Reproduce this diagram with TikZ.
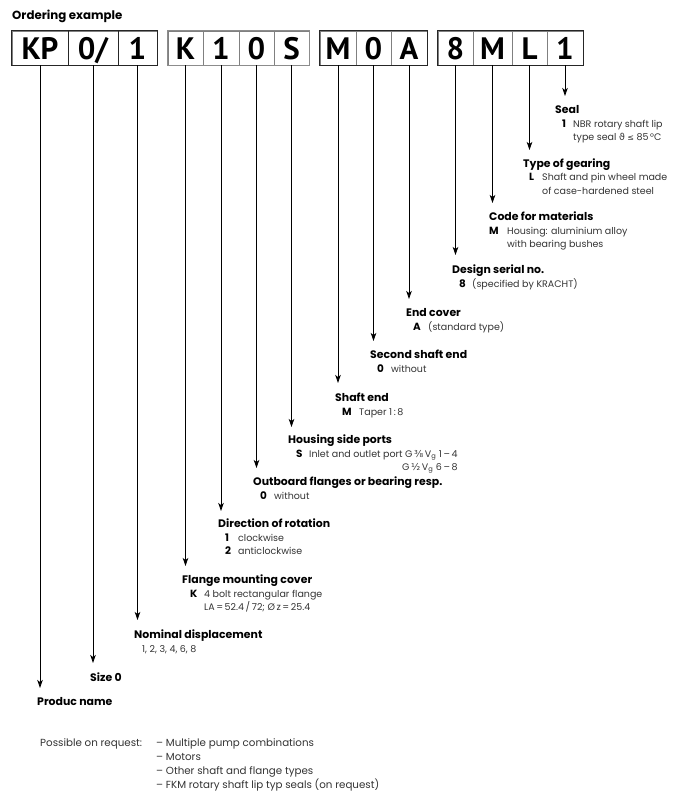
\documentclass[tikz,border=0pt]{standalone}
\usepackage{fontspec}
\setmainfont{Poppins}
\newfontfamily\boxfont{PT Sans}
\newfontfamily\symfont{DejaVu Sans}
\usetikzlibrary{arrows.meta,calc}
\tikzset{
  lbl/.style={anchor=base west, inner sep=0pt, font=\fontsize{10.9}{13}\selectfont\bfseries},
  ttl/.style={anchor=base west, inner sep=0pt, font=\fontsize{11.8}{14}\selectfont\bfseries},
  num/.style={anchor=base west, inner sep=0pt, font=\fontsize{10.4}{12}\selectfont\bfseries},
  dsc/.style={anchor=base west, inner sep=0pt, font=\fontsize{9.5}{12}\selectfont, text=black!80},
  note/.style={anchor=base west, inner sep=0pt, font=\fontsize{10.3}{12}\selectfont, text=black!80},
  cell/.style={draw=black!50, line width=0.8pt, minimum height=34pt, inner sep=0pt,
    text height=22pt, text depth=0pt, font=\boxfont\bfseries\fontsize{31}{31}\selectfont},
  grp/.style={draw=black!85, line width=1.1pt},
  arr/.style={line width=0.9pt, -{Stealth[length=8pt,width=5.5pt,inset=2pt]}}
}
\begin{document}
\begin{tikzpicture}[x=1pt,y=-1pt]
\useasboundingbox (0,0) rectangle (677,806);
\node[ttl] (title) at (12,19) {Ordering example};
% cells
\node[cell, minimum width=56pt] (c1) at (40,48) {KP};
\node[cell, minimum width=50pt] (c2) at (93,48) {0/};
\node[cell, minimum width=39pt] (c3) at (137.5,48) {1};
\node[cell, minimum width=35pt] (c4) at (185.5,48) {K};
\node[cell, minimum width=36pt] (c5) at (221,48) {1};
\node[cell, minimum width=35pt] (c6) at (256.5,48) {0};
\node[cell, minimum width=35pt] (c7) at (291.5,48) {S};
\node[cell, minimum width=36pt] (c8) at (338,48) {M};
\node[cell, minimum width=35pt] (c9) at (373.5,48) {0};
\node[cell, minimum width=36pt] (c10) at (409,48) {A};
\node[cell, minimum width=35pt] (c11) at (455.5,48) {8};
\node[cell, minimum width=39pt] (c12) at (492.5,48) {M};
\node[cell, minimum width=35pt] (c13) at (529.5,48) {L};
\node[cell, minimum width=36pt] (c14) at (565,48) {1};
\draw[grp] (c1.north west) rectangle (c3.south east);
\draw[grp] (c1.north east) -- (c1.south east) (c2.north east) -- (c2.south east);
\draw[draw=black!45, line width=1pt] (c4.north west) rectangle (c7.south east);
\draw[grp] (c8.north west) rectangle (c10.south east);
\draw[grp] (c11.north west) rectangle (c14.south east);
% arrow tips
\coordinate (t14) at (565,96);
\coordinate (t13) at (529,150);
\coordinate (t12) at (493,203);
\coordinate (t11) at (455,255);
\coordinate (t10) at (409,299);
\coordinate (t9) at (373,341);
\coordinate (t8) at (338,383);
\coordinate (t7) at (292,427);
\coordinate (t6) at (257,468);
\coordinate (t5) at (221,511);
\coordinate (t4) at (186,566);
\coordinate (t3) at (137,620);
\coordinate (t2) at (93,663);
\coordinate (t1) at (40,688);
\foreach \i in {1,...,14}{\draw[arr] (c\i.south) -- (c\i.south |- t\i);}
% Seal
\node[lbl] (l14) at (555,113.5) {Seal};
\node[num] at (562,127) {1};
\node[dsc] (d14a) at (573,127) {NBR rotary shaft lip};
\node[dsc] (d14b) at (573,140.5) {type seal {\symfont ϑ} {\symfont\fontsize{8}{10}\selectfont ≤} 85\,°C};
% Type of gearing
\node[lbl] (l13) at (523,167) {Type of gearing};
\node[num] at (529,180.5) {L};
\node[dsc] (d13a) at (542,180.5) {Shaft and pin wheel made};
\node[dsc] (d13b) at (542,194) {of case-hardened steel};
% Code for materials
\node[lbl] (l12) at (489,220) {Code for materials};
\node[num] at (489,234) {M};
\node[dsc] (d12a) at (507,234) {Housing: aluminium alloy};
\node[dsc] (d12b) at (507,247.5) {with bearing bushes};
% Design serial no.
\node[lbl] (l11) at (452,273) {Design serial no.};
\node[num] at (459,287) {8};
\node[dsc] (d11a) at (472,287) {(specified by KRACHT)};
% End cover
\node[lbl] (l10) at (406,316) {End cover};
\node[num] at (413,330) {A};
\node[dsc] (d10a) at (428,330) {(standard type)};
% Second shaft end
\node[lbl] (l9) at (370,358) {Second shaft end};
\node[num] at (377,372) {0};
\node[dsc] (d9a) at (391,372) {without};
% Shaft end
\node[lbl] (l8) at (335,401) {Shaft end};
\node[num] at (342,415) {M};
\node[dsc] (d8a) at (359,415) {Taper 1\,:\,8};
% Housing side ports
\node[lbl] (l7) at (288,443) {Housing side ports};
\node[num] at (296,457) {S};
\node[dsc] (d7a) at (309,457) {Inlet and outlet port G\,{\symfont ⅜}\,V\textsubscript{g} 1\,–\,4};
\node[dsc, anchor=base east] (d7b) at ($(d7a.base east)+(0,13.5)$) {G\,{\symfont ½}\,V\textsubscript{g} 6\,–\,8};
% Outboard
\node[lbl] (l6) at (253,485) {Outboard flanges or bearing resp.};
\node[num] at (260,499) {0};
\node[dsc] (d6a) at (274,499) {without};
% Direction of rotation
\node[lbl] (l5) at (218,527) {Direction of rotation};
\node[num] at (225,541) {1};
\node[dsc] (d5a) at (238,541) {clockwise};
\node[num] at (225,554.5) {2};
\node[dsc] (d5b) at (238,554.5) {anticlockwise};
% Flange mounting cover
\node[lbl] (l4) at (182,583) {Flange mounting cover};
\node[num] at (190,597) {K};
\node[dsc] (d4a) at (204,597) {4 bolt rectangular flange};
\node[dsc] (d4b) at (204,610.5) {LA\,=\,52.4\,/\,72; Ø\,z\,=\,25.4};
% Nominal displacement
\node[lbl] (l3) at (134,638) {Nominal displacement};
\node[dsc] (d3a) at (142,652) {1, 2, 3, 4, 6, 8};
% Size
\node[lbl] (l2) at (90,681) {Size 0};
% Product name
\node[lbl] (l1) at (37,705) {Produc name};
% Notes
\node[note] (n0) at (40,746.5) {Possible on request:};
\node[note] (n1) at (156,746.5) {– Multiple pump combinations};
\node[note] (n2) at (156,760) {– Motors};
\node[note] (n3) at (156,774) {– Other shaft and flange types};
\node[note] (n4) at (156,788) {– FKM rotary shaft lip typ seals (on request)};
\end{tikzpicture}
\end{document}
